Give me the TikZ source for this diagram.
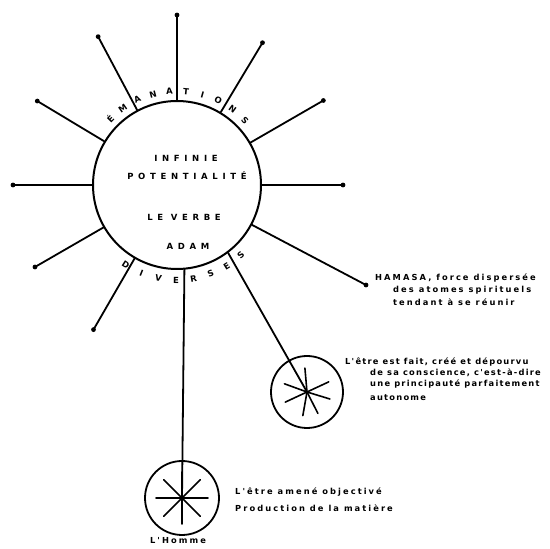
\documentclass[tikz,border=0pt]{standalone}
\usepackage{fontspec}
\newfontfamily\handfont{DejaVu Sans}[LetterSpace=25]
\newfontfamily\tightfont{DejaVu Sans}[LetterSpace=15]
\newfontfamily\capsfont{DejaVu Sans}[LetterSpace=55]
\usetikzlibrary{calc, positioning}

\tikzset{
  ray/.style={line width=1.8pt, line cap=round},
  rim/.style={draw, circle, line width=2pt, inner sep=0pt},
  spoke/.style={line width=1.6pt, line cap=round},
  note/.style={font=\handfont\bfseries\fontsize{8.3}{9}\selectfont, anchor=west, inner sep=0pt},
  tightnote/.style={note, font=\tightfont\bfseries\fontsize{8.3}{9}\selectfont},
  coretext/.style={font=\capsfont\bfseries\fontsize{8.5}{9}\selectfont, inner sep=0pt},
  rimletter/.style={font=\handfont\bfseries\fontsize{8.5}{9}\selectfont, inner sep=0pt}
}

\begin{document}
\begin{tikzpicture}[x=1pt, y=1pt]
  \clip (0,0) rectangle (550,549);
  % central sphere and the two satellites
  \node[rim, minimum size=168pt] (core) at (177,364) {};
  \node[rim, minimum size=72pt, line width=1.8pt] (satA) at (307,157) {};
  \node[rim, minimum size=74pt, line width=1.8pt] (satB) at (182,51) {};

  % rays with dotted tips
  \foreach \a/\r in {90/170, 118/168, 59/166, 149/163, 30/169, 180/164, 0/166, 210/164, 240/167}{
    \path (core.center) ++(\a:\r) coordinate (tip\a);
    \draw[ray] (core.\a) -- (tip\a);
    \fill (tip\a) circle (2.4);
  }
  % ray towards the HAMASA note
  \coordinate (tipH) at (366,264);
  \draw[ray] (core.-28) -- (tipH);
  \fill (tipH) circle (2.4);

  % rays down to the satellites
  \draw[ray] (core.307) -- (satA.center);
  \draw[ray] (core.275) -- (satB.center);
  \foreach \a in {95,25,-17,-63,-100,-155,160}
    \draw[spoke] (satA.center) -- ++(\a:24);
  \foreach \a in {0,45,...,315}
    \draw[spoke] (satB.center) -- ++(\a:26);

  % lettering round the rim
  \foreach \ch [count=\i] in {É,M,A,N,A,T,I,O,N,S}{
    \pgfmathsetmacro\ang{135.4-(\i-1)*10.2}
    \node[rimletter, rotate=\ang-90] (em\i) at ($(core.center)+(\ang:94)$) {\ch};
  }
  \foreach \ch [count=\i] in {D,I,V,E,R,S,E,S}{
    \pgfmathsetmacro\ang{237.3+(\i-1)*10.7}
    \node[rimletter, rotate=\ang+90] (dv\i) at ($(core.center)+(\ang:95)$) {\ch};
  }

  % inside the sphere
  \node[coretext] (infinie) at (186,391) {INFINIE};
  \node[coretext] (potent) at (187,373) {POTENTIALITÉ};
  \node[coretext] (verbe) at (184,332) {LE VERBE};
  \node[coretext] (adam) at (188,303) {ADAM};

  % notes
  \node[note] (hamasa1) at (375,271) {HAMASA, force dispersée};
  \node[note] (hamasa2) at (393,259) {des atomes spirituels};
  \node[note] (hamasa3) at (393,247) {tendant à se réunir};

  \node[tightnote] (etre1) at (345,187) {L'être est fait, créé et dépourvu};
  \node[tightnote] (etre2) at (370,176) {de sa conscience, c'est-à-dire};
  \node[tightnote] (etre3) at (370,165) {une principauté parfaitement};
  \node[tightnote] (etre4) at (370,151) {autonome};

  \node[note] (objet1) at (235,57) {L'être amené objectivé};
  \node[note] (objet2) at (235,41) {Production de la matière};

  \node[note, anchor=center] (homme) at (178,8) {L'Homme};
\end{tikzpicture}
\end{document}
